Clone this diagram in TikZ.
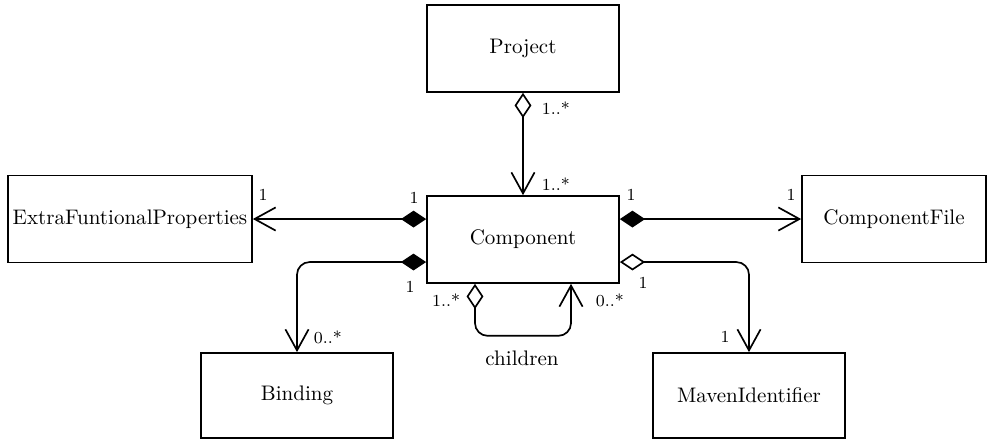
\documentclass[tikz,border=0pt]{standalone}
\usetikzlibrary{arrows.meta}
\tikzset{
  cls/.style={draw, thick, inner sep=0pt, minimum width=91.2pt, minimum height=41.3pt},
  mult/.style={font=\footnotesize, inner sep=1pt},
  composes/.style={{Diamond[length=12pt,width=8pt]}-{Straight Barb[length=10pt,width=11pt]}},
  aggregates/.style={{Diamond[open,length=12pt,width=8pt]}-{Straight Barb[length=10pt,width=11pt]}},
}
\begin{document}
\begin{tikzpicture}[x=0.475pt, y=0.475pt, thick]
      \useasboundingbox (0,0) rectangle (987,441);
      % classes
      \node[cls] (project) at (523,392.5) {Project};
      \node[cls] (component) at (523,201.5) {Component};
      \node[cls, minimum width=115.9pt] (efp) at (130,222) {ExtraFuntionalProperties};
      \node[cls, minimum width=87.4pt] (cfile) at (894,222) {ComponentFile};
      \node[cls, minimum height=40.4pt] (binding) at (297,45.5) {Binding};
      \node[cls, minimum height=40.4pt] (maven) at (749,45.5) {MavenIdentifier};
      % associations
      \begin{scope}[rounded corners=6pt]
        \draw[aggregates] (project) to (component);
        \draw[composes] ([yshift=9.7pt]component.west) to (efp.east);
        \draw[composes] ([yshift=9.7pt]component.east) to (cfile.west);
        \draw[composes] ([yshift=-10.7pt]component.west) -| (binding.north);
        \draw[aggregates] ([yshift=-10.7pt]component.east) -| (maven.north);
        \draw[aggregates] ([xshift=-22.8pt]component.south) -- ++(0,-52)
          -| ([xshift=22.8pt]component.south);
      \end{scope}
      % multiplicities
      \node[mult, anchor=west] (m1) at (539,333) {1..*};
      \node[mult, anchor=west] (m2) at (539,257) {1..*};
      \node[mult] (m3) at (414,243) {1};
      \node[mult] (m4) at (263,246) {1};
      \node[mult] (m5) at (410,154) {1};
      \node[mult, anchor=west] (m6) at (311,104) {0..*};
      \node[mult] (m7) at (631,246) {1};
      \node[mult] (m8) at (791,246) {1};
      \node[mult] (m9) at (643,158) {1};
      \node[mult] (m10) at (725,104) {1};
      \node[mult, anchor=east] (m11) at (463,141) {1..*};
      \node[mult, anchor=west] (m12) at (593,141) {0..*};
      \node (children) at (522,83) {children};
    \end{tikzpicture}
\end{document}
